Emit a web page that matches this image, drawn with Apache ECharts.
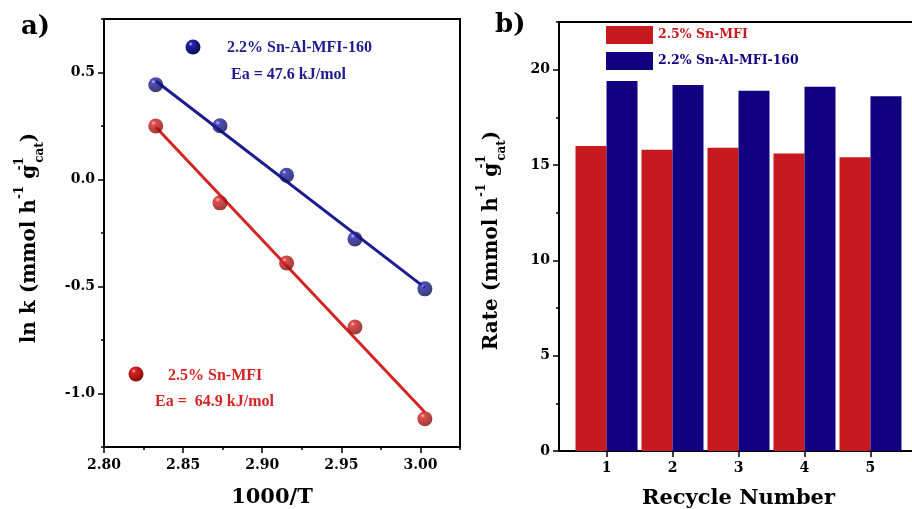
<!DOCTYPE html>
<html>
<head>
<meta charset="utf-8">
<script src="https://cdn.jsdelivr.net/npm/echarts@6/dist/echarts.min.js"></script>
<style>
  html, body { margin: 0; padding: 0; background: #fff; }
  #main { width: 912px; height: 509px; }
</style>
</head>
<body>
<div id="main"></div>
<script>
// a) Arrhenius plot
const invT = [2.8327, 2.8733, 2.9154, 2.9586, 3.0028];
const lnkAl = [0.443, 0.251, 0.020, -0.278, -0.511];
const lnkSn = [0.250, -0.109, -0.390, -0.689, -1.118];
const fitAl = [[2.8327, 0.460], [3.0028, -0.505]];
const fitSn = [[2.8327, 0.245], [3.0028, -1.088]];
const invTTicks = [2.80, 2.85, 2.90, 2.95, 3.00];
const lnkTicks = [-1.0, -0.5, 0.0, 0.5];

// b) recycle test
const recycle = [1, 2, 3, 4, 5];
const rateSn = [16.0, 15.8, 15.9, 15.6, 15.4];
const rateAl = [19.4, 19.2, 18.9, 19.1, 18.6];
const rateTicks = [0, 5, 10, 15, 20];

const nameSn = '2.5% Sn-MFI';
const nameAl = '2.2% Sn-Al-MFI-160';

const RED = '#c8191e', BLUE = '#11007f';
const RED_LINE = '#d42424', BLUE_LINE = '#1c1c8e';
const FONT = 'DejaVu Serif';

let myChart = echarts.init(document.getElementById('main'));

function ball(hi, mid, dark) {
  return new echarts.graphic.RadialGradient(0.35, 0.3, 0.8, [
    { offset: 0, color: hi },
    { offset: 0.18, color: mid },
    { offset: 1, color: dark }
  ]);
}
const ballAl = ball('#b8b8f0', '#2222a8', '#08084a');
const ballSn = ball('#f4b8b8', '#d82222', '#7a0808');

const tickLabel = { fontFamily: FONT, fontWeight: 'bold', fontSize: 14, color: '#000' };

function majorAxis(grid, pos, min, max, ticks, fmt, margin, extra) {
  return Object.assign({
    type: 'value', gridIndex: grid, position: pos, min: min, max: max,
    axisLine: { show: true, onZero: false, lineStyle: { color: '#000', width: 2 } },
    axisTick: { show: true, inside: false, length: 6, customValues: ticks, lineStyle: { color: '#000', width: 1.5 } },
    axisLabel: Object.assign({ customValues: ticks, margin: margin, formatter: fmt }, tickLabel),
    splitLine: { show: false }
  }, extra || {});
}
function minorAxis(grid, pos, min, max, step) {
  return {
    type: 'value', gridIndex: grid, position: pos, min: min, max: max, interval: step,
    axisLine: { show: false, onZero: false },
    axisTick: { show: true, inside: false, length: 3, lineStyle: { color: '#000', width: 1.5 } },
    axisLabel: { show: false },
    splitLine: { show: false }
  };
}

const bigName = { fontFamily: FONT, fontWeight: 'bold', fontSize: 21, color: '#000' };
// sup2 has almost no width so "cat" sits under the "-1" like in the figure
const richName = {
  t: { fontFamily: FONT, fontWeight: 'bold', fontSize: 20, color: '#000' },
  sup: { fontFamily: FONT, fontWeight: 'bold', fontSize: 12, color: '#000', verticalAlign: 'top', lineHeight: 32 },
  sup2: { fontFamily: FONT, fontWeight: 'bold', fontSize: 12, color: '#000', verticalAlign: 'top', lineHeight: 32, width: 2 },
  sub: { fontFamily: FONT, fontWeight: 'bold', fontSize: 12, color: '#000', verticalAlign: 'bottom', lineHeight: 32 }
};

let option = {
  backgroundColor: '#fff',
  animation: false,
  grid: [
    { left: 104, top: 19, width: 356, height: 428, outerBoundsMode: 'none', containLabel: false,
      show: true, borderColor: '#000', borderWidth: 2 },
    { left: 559, top: 22, width: 359, height: 429, outerBoundsMode: 'none', containLabel: false,
      show: true, borderColor: '#000', borderWidth: 2 }
  ],
  xAxis: [
    majorAxis(0, 'bottom', 2.8, 3.025, invTTicks, v => v.toFixed(2), 11, {
      name: '1000/T', nameLocation: 'middle', nameGap: 40,
      nameTextStyle: Object.assign({ padding: [0, 20, 0, 0] }, bigName)
    }),
    minorAxis(0, 'bottom', 2.8, 3.025, 0.025),
    majorAxis(1, 'bottom', 0.28, 5.72, recycle, v => String(v), 10, {
      name: 'Recycle Number', nameLocation: 'middle', nameGap: 37, nameTextStyle: bigName
    })
  ],
  yAxis: [
    majorAxis(0, 'left', -1.25, 0.75, lnkTicks, v => v.toFixed(1), 9, {
      name: '{t|ln k (mmol h}{sup|-1}{t| g}{sup2|-1}{sub|cat}{t|)}',
      nameLocation: 'middle', nameGap: 58,
      nameTextStyle: { rich: richName, padding: [0, 10, 0, 0] }
    }),
    minorAxis(0, 'left', -1.25, 0.75, 0.25),
    majorAxis(1, 'left', 0, 22.5, rateTicks, v => String(v), 9, {
      name: '{t|Rate (mmol h}{sup|-1}{t| g}{sup2|-1}{sub|cat}{t|)}',
      nameLocation: 'middle', nameGap: 51,
      nameTextStyle: { rich: richName, padding: [0, 8, 0, 0] }
    }),
    minorAxis(1, 'left', 0, 22.5, 2.5)
  ],
  legend: {
    left: 601, top: 21, orient: 'vertical',
    itemWidth: 47, itemHeight: 18, itemGap: 8, icon: 'rect',
    textStyle: { fontFamily: FONT, fontWeight: 'bold', fontSize: 12.5 },
    data: [
      { name: nameSn, textStyle: { color: RED } },
      { name: nameAl, textStyle: { color: BLUE } }
    ]
  },
  series: [
    {
      type: 'line', name: 'fit Sn', xAxisIndex: 0, yAxisIndex: 0,
      data: fitSn, showSymbol: false, z: 2,
      lineStyle: { color: RED_LINE, width: 3 }
    },
    {
      type: 'line', name: 'fit Al', xAxisIndex: 0, yAxisIndex: 0,
      data: fitAl, showSymbol: false, z: 2,
      lineStyle: { color: BLUE_LINE, width: 3 }
    },
    {
      type: 'scatter', name: 'lnk Sn', xAxisIndex: 0, yAxisIndex: 0, z: 3,
      data: invT.map((x, i) => [x, lnkSn[i]]),
      symbolSize: 15, itemStyle: { color: ballSn }
    },
    {
      type: 'scatter', name: 'lnk Al', xAxisIndex: 0, yAxisIndex: 0, z: 3,
      data: invT.map((x, i) => [x, lnkAl[i]]),
      symbolSize: 15, itemStyle: { color: ballAl }
    },
    {
      type: 'bar', name: nameSn, xAxisIndex: 2, yAxisIndex: 2,
      data: recycle.map((x, i) => [x, rateSn[i]]),
      barWidth: 31, barGap: '0%', itemStyle: { color: RED }
    },
    {
      type: 'bar', name: nameAl, xAxisIndex: 2, yAxisIndex: 2,
      data: recycle.map((x, i) => [x, rateAl[i]]),
      barWidth: 31, barGap: '0%', itemStyle: { color: BLUE }
    }
  ],
  graphic: [
    { type: 'text', left: 21, top: 14, style: { text: 'a)', font: 'bold 26px "DejaVu Serif"', fill: '#000' } },
    { type: 'text', left: 495, top: 12, style: { text: 'b)', font: 'bold 26px "DejaVu Serif"', fill: '#000' } },
    { type: 'circle', shape: { cx: 193, cy: 47, r: 7.5 }, style: { fill: ballAl } },
    { type: 'text', x: 227, y: 48, style: { text: nameAl, font: 'bold 16px "Liberation Serif"', fill: BLUE_LINE, textVerticalAlign: 'middle' } },
    { type: 'text', x: 231, y: 75, style: { text: 'Ea = 47.6 kJ/mol', font: 'bold 16px "Liberation Serif"', fill: BLUE_LINE, textVerticalAlign: 'middle' } },
    { type: 'circle', shape: { cx: 136, cy: 374, r: 7.5 }, style: { fill: ballSn } },
    { type: 'text', x: 168, y: 376, style: { text: nameSn, font: 'bold 16px "Liberation Serif"', fill: RED_LINE, textVerticalAlign: 'middle' } },
    { type: 'text', x: 155, y: 402, style: { text: 'Ea =  64.9 kJ/mol', font: 'bold 16px "Liberation Serif"', fill: RED_LINE, textVerticalAlign: 'middle' } }
  ]
};
myChart.setOption(option);
</script>
</body>
</html>
